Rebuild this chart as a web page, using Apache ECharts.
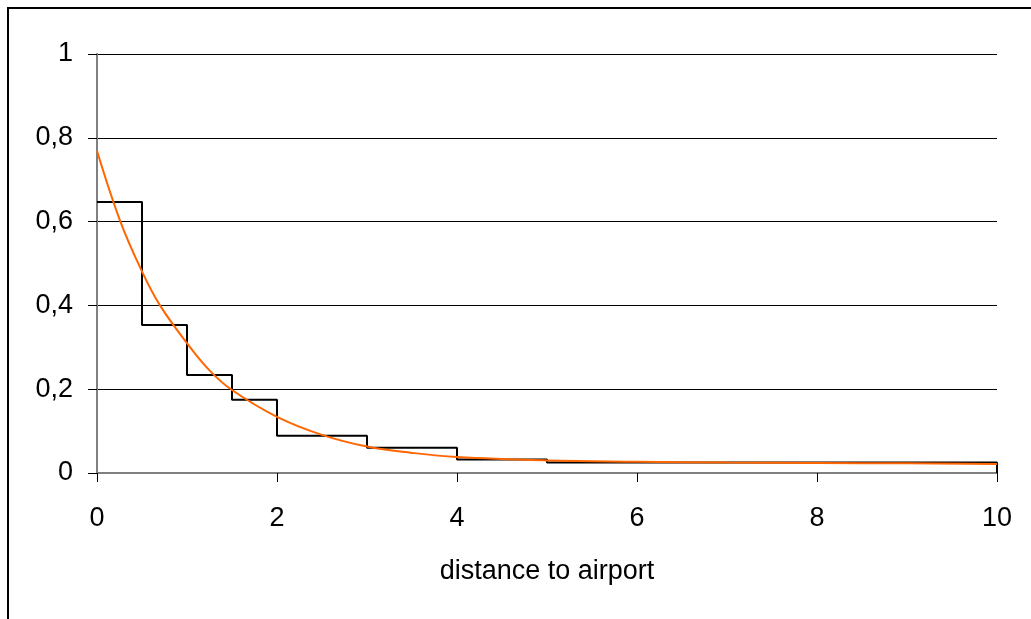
<!DOCTYPE html>
<html>
<head>
<meta charset="utf-8">
<style>html,body{margin:0;padding:0;background:#fff}#c{width:1031px;height:619px}</style>
<script src="https://cdn.jsdelivr.net/npm/echarts@6/dist/echarts.min.js"></script>
</head>
<body>
<div id="c"></div>
<script>
const xTicks = [0, 2, 4, 6, 8, 10];
const yTicks = ['0', '0,2', '0,4', '0,6', '0,8', '1'];
const stepX = [0, 0.5, 1, 1.5, 2, 3, 4, 5, 10, 10];
const stepY = [0.647, 0.353, 0.234, 0.175, 0.089, 0.060, 0.032, 0.025, 0.025, 0];
const curveX = [0, 0.26, 0.5, 0.7, 1, 1.25, 1.5, 2, 2.5, 3, 3.5, 4, 5, 6, 7, 8, 9, 10];
const curveY = [0.769, 0.600, 0.481, 0.400, 0.310, 0.245, 0.198, 0.134, 0.091, 0.063, 0.048, 0.038, 0.030, 0.027, 0.025, 0.024, 0.023, 0.0215];
const xName = 'distance to airport';

const chart = echarts.init(document.getElementById('c'), null, {renderer: 'canvas'});
const font = 'Liberation Sans, Arial, sans-serif';
chart.setOption({
  backgroundColor: '#fff',
  animation: false,
  grid: {left: 97, right: 34, top: 54, bottom: 146, containLabel: false},
  xAxis: {
    type: 'value', min: 0, max: 10, interval: 2,
    name: xName, nameLocation: 'middle', nameGap: 85,
    nameTextStyle: {fontFamily: font, fontSize: 27, color: '#000'},
    axisLine: {show: true, lineStyle: {color: '#808080', width: 2}},
    axisTick: {show: true, length: 9, lineStyle: {color: '#000', width: 1}},
    axisLabel: {margin: 32, fontFamily: font, fontSize: 27, color: '#000',
      formatter: v => xTicks.includes(v) ? String(v) : ''},
    splitLine: {show: false}
  },
  yAxis: {
    type: 'value', min: 0, max: 1, interval: 0.2,
    axisLine: {show: true, lineStyle: {color: '#808080', width: 2}},
    axisTick: {show: true, length: 9, lineStyle: {color: '#000', width: 1}},
    axisLabel: {margin: 24, fontFamily: font, fontSize: 27, color: '#000',
      formatter: v => yTicks[Math.round(v / 0.2)]},
    splitLine: {show: true, lineStyle: {color: '#000', width: 1}}
  },
  series: [
    {
      type: 'line', step: 'end', showSymbol: false, symbol: 'none',
      data: stepX.map((x, i) => [x, stepY[i]]),
      lineStyle: {color: '#000', width: 2}, z: 3, clip: false
    },
    {
      type: 'line', smooth: 0.4, showSymbol: false, symbol: 'none',
      data: curveX.map((x, i) => [x, curveY[i]]),
      lineStyle: {color: '#FF6600', width: 2}, z: 4, clip: false
    }
  ],
  graphic: [
    {type: 'polyline', shape: {points: [[8, 619], [8, 8], [1031, 8]]},
     style: {stroke: '#000', lineWidth: 2, fill: null}, silent: true}
  ]
});
</script>
</body>
</html>
